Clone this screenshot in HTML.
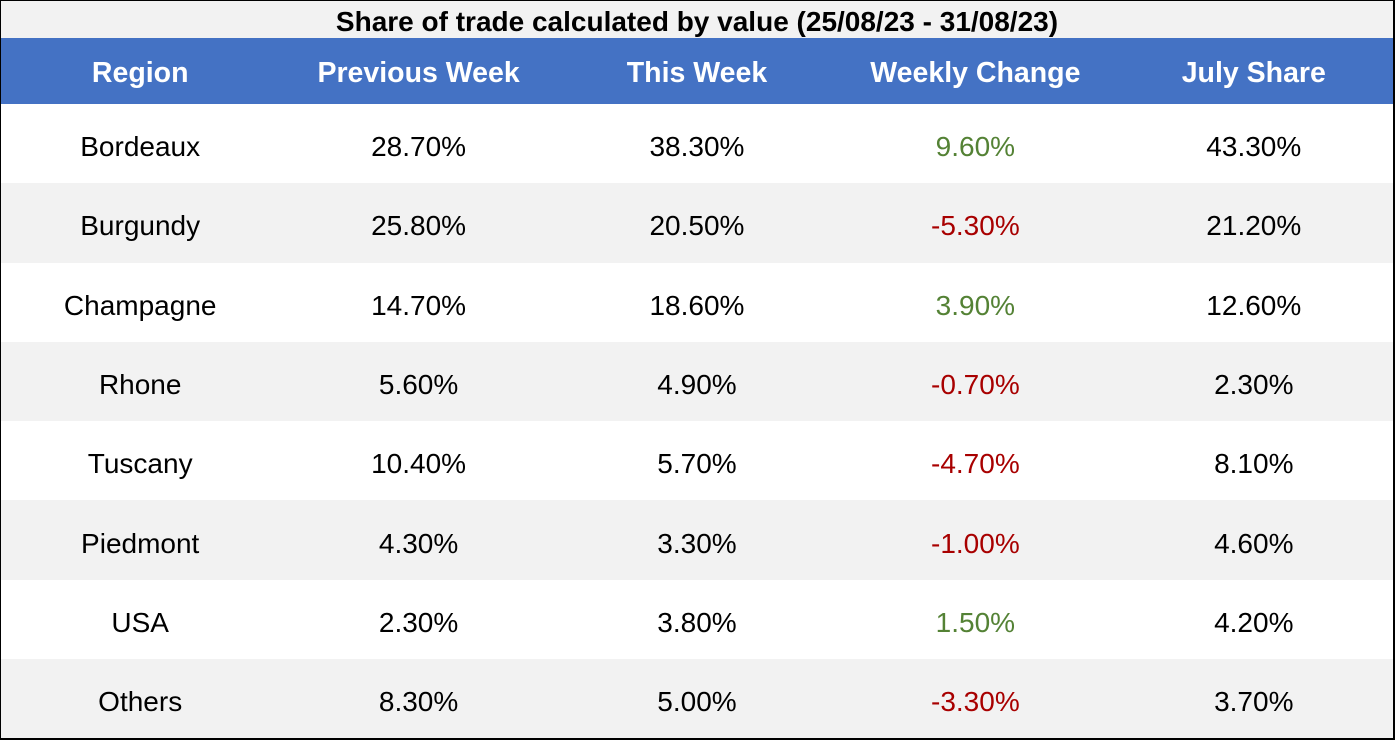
<!DOCTYPE html>
<html><head><meta charset="utf-8"><style>
html,body{margin:0;padding:0;background:#fff}
#wrap{position:absolute;left:0;top:0;width:1392px;height:737px;border:2px solid #000;border-left-width:1px;border-top-width:1px;background:#f2f2f2;font-family:"Liberation Sans",Arial,sans-serif;overflow:hidden}
#title{height:37px;line-height:42px;text-align:center;font-weight:bold;font-size:28px;color:#000}
table{border-collapse:collapse;width:1392px;table-layout:fixed}
th{background:#4472c4;color:#fff;font-size:28.5px;font-weight:bold;height:66px;padding:4px 0 0 0;box-sizing:border-box;text-align:center}
td{height:79.3px;padding:7px 0 0 0;box-sizing:border-box;text-align:center;font-size:28px;color:#000}
tr.odd td{background:#fff}
tr.even td{background:#f2f2f2}
.pos{color:#548235}.neg{color:#a80000}
</style></head><body>
<div id="wrap">
<div id="title">Share of trade calculated by value (25/08/23 - 31/08/23)</div>
<table>
<thead><tr>
<th>Region</th>
<th>Previous Week</th>
<th>This Week</th>
<th>Weekly Change</th>
<th>July Share</th>
</tr></thead>
<tbody id="tb"></tbody>
</table>
</div>
<script>
const regions=["Bordeaux","Burgundy","Champagne","Rhone","Tuscany","Piedmont","USA","Others"];
const prevWeek=[28.7,25.8,14.7,5.6,10.4,4.3,2.3,8.3];
const thisWeek=[38.3,20.5,18.6,4.9,5.7,3.3,3.8,5.0];
const weeklyChange=[9.6,-5.3,3.9,-0.7,-4.7,-1.0,1.5,-3.3];
const julyShare=[43.3,21.2,12.6,2.3,8.1,4.6,4.2,3.7];
const tb=document.getElementById('tb');
const fmt=v=>v.toFixed(2)+'%';
regions.forEach((r,i)=>{
  const tr=document.createElement('tr');
  tr.className=i%2?'even':'odd';
  
  
  const vals=[r,fmt(prevWeek[i]),fmt(thisWeek[i]),fmt(weeklyChange[i]),fmt(julyShare[i])];
  const names=['region','previous-week','this-week','weekly-change','july-share'];
  vals.forEach((v,j)=>{
    const td=document.createElement('td');
    td.textContent=v;
    if(j===3)td.className=weeklyChange[i]>=0?'pos':'neg';
    
    
    tr.appendChild(td);
  });
  tb.appendChild(tr);
});
</script>
</body></html>
